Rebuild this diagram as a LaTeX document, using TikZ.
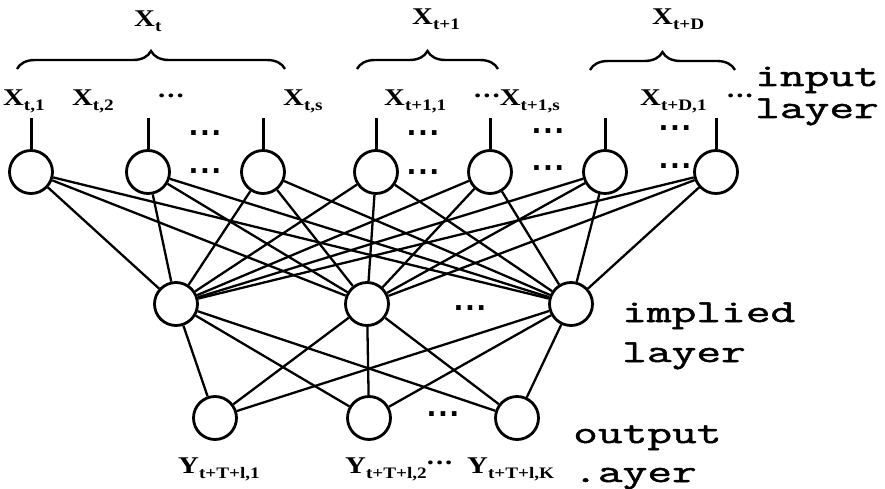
\documentclass[tikz,border=0pt]{standalone}
\usepackage{fontspec}
\setmainfont{Liberation Serif}[FakeStretch=1.2]
\newfontfamily\layerfont{Latin Modern Mono}[FakeStretch=1.5, FakeBold=1.6]
\newfontfamily\dotfont{DejaVu Sans}
\usetikzlibrary{
    positioning,
    decorations.pathreplacing
}

% subscript and raised ellipsis for the variable names
\newcommand\sbx[1]{\raisebox{-5pt}{\fontsize{16pt}{16pt}\selectfont #1}}
\newcommand\updots{\raisebox{8.5pt}{.\kern2pt.\kern2pt.}}
\newcommand\gapdots{.\kern1.5pt.\kern1.5pt.}

\tikzset{
    % Neurons
    neuron/.style={
        circle,
        draw=black,
        line width=2.8pt,
        minimum size=43pt,
        inner sep=0pt
    },
    % Connections
    link/.style={
        line width=2.3pt,
        draw=black
    },
    stub/.style={
        line width=3pt,
        draw=black
    },
    groupbrace/.style={
        decorate,
        decoration={brace, amplitude=18pt},
        line width=2.4pt
    },
    % Labels
    varlabel/.style={
        font=\fontsize{24pt}{24pt}\selectfont\bfseries,
        anchor=base west,
        inner sep=0pt
    },
    layerlabel/.style={
        font=\layerfont\fontsize{32pt}{32pt}\selectfont,
        anchor=base west,
        inner sep=0pt
    },
    dotgap/.style={
        font=\dotfont\bfseries\fontsize{26pt}{26pt}\selectfont,
        anchor=base,
        inner sep=0pt,
        text height=6pt,
        text depth=0pt
    }
}

\begin{document}
\begin{tikzpicture}[x=1pt, y=-1pt]
    \useasboundingbox (0,0) rectangle (885,489);

    % Input layer
    \foreach \x [count=\k] in {31,148,263,376,490,605,716} {
        \node[neuron] (i\k) at (\x,172) {};
        \coordinate[above=31pt of i\k] (s\k);
        \draw[stub] (i\k.north) -- (s\k);
    }

    % Implied layer
    \node[neuron] (h1) at (176,304) {};
    \node[neuron] (h2) at (367,304) {};
    \node[neuron] (h3) at (571,304) {};

    % Output layer
    \node[neuron] (o1) at (215,418) {};
    \node[neuron] (o2) at (369,418) {};
    \node[neuron] (o3) at (517,418) {};

    % Full connections
    \foreach \k in {1,...,7}
        \foreach \h in {1,2,3}
            \draw[link] (i\k) -- (h\h);
    \foreach \h in {1,2,3}
        \foreach \o in {1,2,3}
            \draw[link] (h\h) -- (o\o);

    % Gaps between neurons
    \foreach \x/\y in {205/136, 205/173, 423/136, 423/175, 548/134, 548/171, 675/131, 675/168} {
        \node[dotgap] at (\x,\y) {\gapdots};
    }
    \node[dotgap] (hgap) at (470,310) {\gapdots};
    \node[dotgap] (ogap) at (443,416) {\gapdots};

    % Group braces
    \coordinate (b1l) at (17,69);
    \coordinate (b1r) at (285,69);
    \coordinate (b2l) at (357,69);
    \coordinate (b2r) at (498,69);
    \coordinate (b3l) at (590,70);
    \coordinate (b3r) at (735,70);
    \draw[groupbrace] (b1l) -- (b1r);
    \draw[groupbrace] (b2l) -- (b2r);
    \draw[groupbrace] (b3l) -- (b3r);

    % Group names
    \node[varlabel] (gt) at (134,27) {X\sbx{t}};
    \node[varlabel] (gt1) at (412,25) {X\sbx{t+1}};
    \node[varlabel] (gtd) at (652,25) {X\sbx{t+D}};

    % Input variables
    \node[varlabel] (x11) at (3,106) {X\sbx{t,1}};
    \node[varlabel] (x12) at (72,106) {X\sbx{t,2}};
    \node[varlabel] (xd1) at (158,106) {\updots};
    \node[varlabel] (x1s) at (283,106) {X\sbx{t,s}};
    \node[varlabel] (x21) at (384,106) {X\sbx{t+1,1}};
    \node[varlabel] (x2s) at (474,106) {\updots X\sbx{t+1,s}};
    \node[varlabel] (x31) at (640,106) {X\sbx{t+D,1}};
    \node[varlabel] (xd2) at (727,106) {\updots};

    % Output variables
    \node[varlabel] (y1) at (178,473) {Y\sbx{t+T+l,1}};
    \node[varlabel] (y2) at (345,473) {Y\sbx{t+T+l,2}\updots};
    \node[varlabel] (yk) at (467,473) {Y\sbx{t+T+l,K}};

    % Layer names
    \node[layerlabel] (lin1) at (755,86) {input};
    \node[layerlabel] (lin2) at (755,118) {layer};
    \node[layerlabel] (lhd1) at (622,322) {implied};
    \node[layerlabel] (lhd2) at (622,362) {layer};
    \node[layerlabel] (lout1) at (573,443) {output};
    \node[layerlabel] (lout2) at (573,482) {.ayer};

\end{tikzpicture}
\end{document}
